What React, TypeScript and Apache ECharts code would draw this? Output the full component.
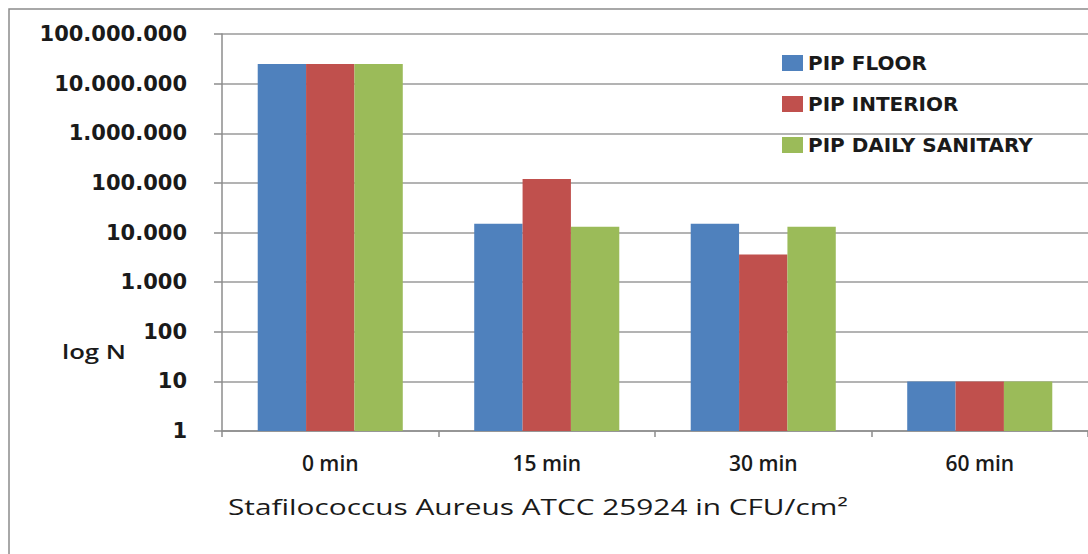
import React, { useEffect, useRef } from "react";
import * as echarts from "echarts";

const categories = ["0 min", "15 min", "30 min", "60 min"];
const seriesNames = ["PIP FLOOR", "PIP INTERIOR", "PIP DAILY SANITARY"];
const pipFloor = [25000000, 15000, 15000, 10];
const pipInterior = [25000000, 120000, 3600, 10];
const pipDailySanitary = [25000000, 13000, 13000, 10];
const colors = ["#4F81BD", "#C0504D", "#9BBB59"];
const yAxisLabel = "log N";
const xTitle = "Stafilococcus Aureus ATCC 25924 in CFU/cm²";

function measure(text: string, font: string): number {
  const c = document.createElement("canvas").getContext("2d");
  if (!c) return text.length * 10;
  c.font = font;
  return c.measureText(text).width;
}

function fmt(v: number): string {
  return Math.round(v).toString().replace(/\B(?=(\d{3})+(?!\d))/g, ".");
}

export default function App() {
  const ref = useRef<HTMLDivElement>(null);
  useEffect(() => {
    if (!ref.current) return;
    const chart = echarts.init(ref.current, undefined, { renderer: "svg" });
    const titleFont = "500 22px 'Open Sans'";
    const titleW = measure(xTitle, titleFont);
    const logFont = "600 20px 'Open Sans'";
    const logW = measure(yAxisLabel, logFont);
    const data = [pipFloor, pipInterior, pipDailySanitary];
    chart.setOption({
      animation: false,
      backgroundColor: "#ffffff",
      grid: { left: 222, right: 0, top: 34, bottom: 554 - 431, containLabel: false },
      legend: {
        orient: "vertical",
        left: 782,
        top: 53,
        padding: 0,
        itemWidth: 21,
        itemHeight: 16,
        itemGap: 21,
        icon: "rect",
        data: seriesNames,
        textStyle: {
          fontFamily: "DejaVu Sans",
          fontWeight: "bold",
          fontSize: 20,
          color: "#1a1a1a",
        },
      },
      xAxis: {
        type: "category",
        data: categories,
        axisLine: { lineStyle: { color: "#8c8c8c", width: 1.5 } },
        axisTick: { show: true, length: 6, inside: false, lineStyle: { color: "#8c8c8c", width: 1.5 } },
        axisLabel: {
          margin: 21,
          fontFamily: "Open Sans",
          fontWeight: 600,
          fontSize: 21,
          color: "#1a1a1a",
        },
      },
      yAxis: {
        type: "log",
        logBase: 10,
        min: 1,
        max: 100000000,
        interval: 1,
        axisLine: { show: true, lineStyle: { color: "#8c8c8c", width: 1.5 } },
        axisTick: { show: true, length: 8, inside: false, lineStyle: { color: "#8c8c8c", width: 1.5 } },
        splitLine: { show: true, lineStyle: { color: "#9a9a9a", width: 1.5 } },
        axisLabel: {
          margin: 35,
          fontFamily: "DejaVu Sans",
          fontWeight: "bold",
          fontSize: 21,
          color: "#1a1a1a",
          formatter: (v: number) => fmt(v),
        },
      },
      series: seriesNames.map((name, i) => ({
        name,
        type: "bar",
        data: data[i],
        barGap: "0%",
        barCategoryGap: "33%",
        itemStyle: { color: colors[i] },
      })),
      graphic: [
        {
          type: "rect",
          shape: { x: 9, y: 9, width: 1200, height: 700 },
          style: { fill: "none", stroke: "#8c8c8c", lineWidth: 1.5 },
          silent: true,
        },
        {
          type: "text",
          x: 228,
          y: 507,
          scaleX: 620 / titleW,
          style: {
            text: xTitle,
            x: 0,
            y: 0,
            fontFamily: "Open Sans",
            fontWeight: 500,
            fontSize: 22,
            fill: "#1a1a1a",
            textVerticalAlign: "middle",
            verticalAlign: "middle",
          },
        },
        {
          type: "text",
          x: 62,
          y: 351,
          scaleX: 64 / logW,
          style: {
            text: yAxisLabel,
            x: 0,
            y: 0,
            fontFamily: "Open Sans",
            fontWeight: 600,
            fontSize: 20,
            fill: "#1a1a1a",
            textVerticalAlign: "middle",
            verticalAlign: "middle",
          },
        },
      ],
    });
    return () => chart.dispose();
  }, []);
  return (
    <div
      ref={ref}
      style={{ position: "absolute", left: 0, top: 0, width: 1088, height: 554, background: "#fff" }}
    />
  );
}
